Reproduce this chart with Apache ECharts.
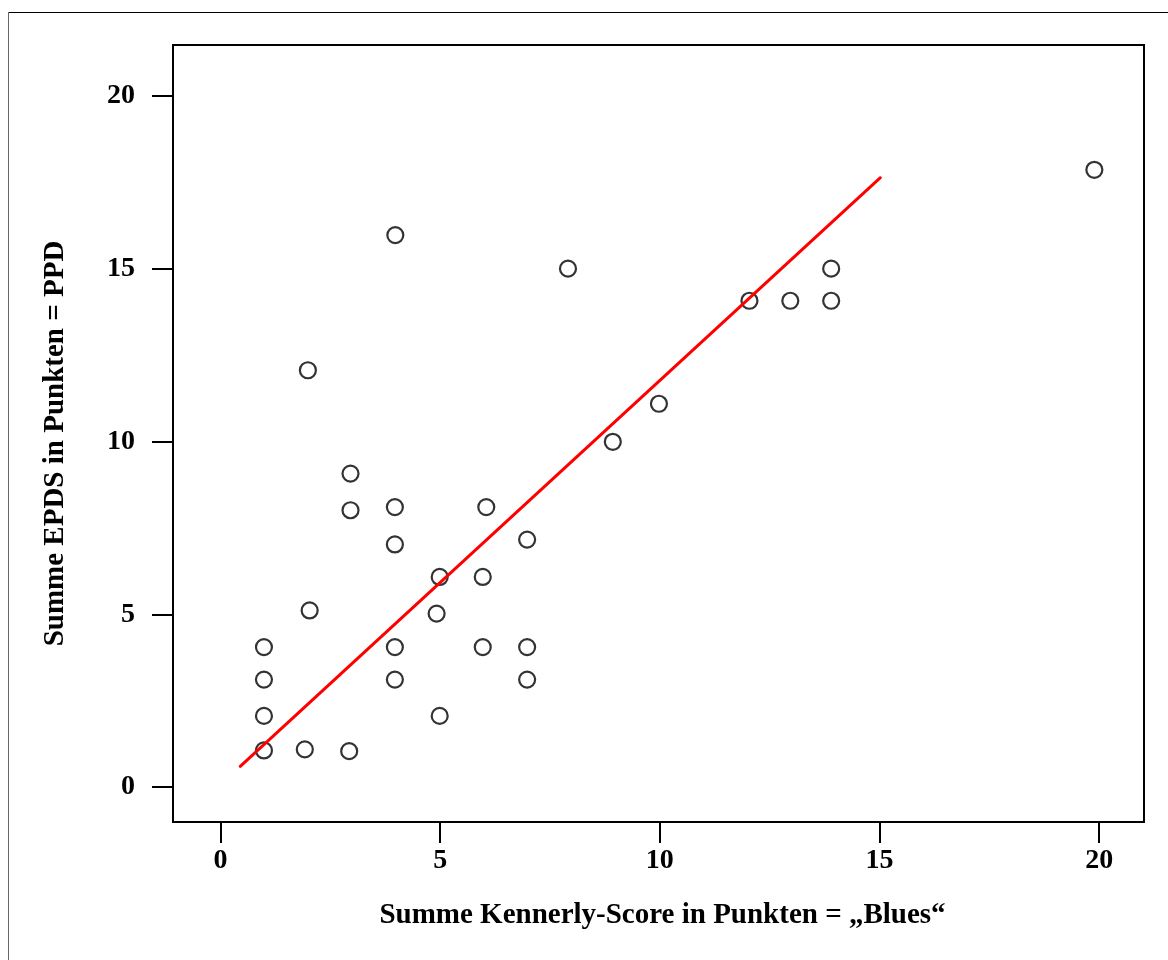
<!DOCTYPE html>
<html>
<head>
<meta charset="utf-8">
<script src="https://cdn.jsdelivr.net/npm/echarts@6.0.0/dist/echarts.min.js"></script>
<style>
  html, body { margin: 0; padding: 0; background: #fff; }
  #chart { width: 1168px; height: 960px; }
</style>
</head>
<body>
<div id="chart"></div>
<script>
// Kennerly-Score ("Blues") values
var kennerly = [0.99, 0.99, 0.99, 0.99, 1.92, 2.03, 1.99, 2.93, 2.96, 2.96,
                3.97, 3.97, 3.97, 3.97, 3.98, 4.99, 4.92, 4.99, 5.97, 5.97,
                6.05, 6.98, 6.98, 6.98, 7.91, 8.93, 9.98, 12.04, 12.97, 13.9,
                13.9, 19.89];
// EPDS values (PPD)
var epds = [1.06, 2.06, 3.11, 4.05, 1.09, 5.11, 12.06, 1.04, 8.01, 9.07,
            3.11, 4.05, 7.02, 8.10, 15.97, 2.06, 5.02, 6.08, 4.05, 6.08,
            8.10, 3.11, 4.05, 7.16, 15.0, 9.99, 11.09, 14.07, 14.07, 14.07,
            15.0, 17.86];
// Regression line end points
var lineX = [0.45, 15.02];
var lineY = [0.6, 17.63];
// Tick labels
var xTicks = [0, 5, 10, 15, 20];
var yTicks = [0, 5, 10, 15, 20];
var xTitle = 'Summe Kennerly-Score in Punkten = \u201EBlues\u201C';
var yTitle = 'Summe EPDS in Punkten = PPD';

var FONT = "'Liberation Serif', 'Times New Roman', serif";

var points = kennerly.map(function (x, i) { return [x, epds[i]]; });
var linePts = lineX.map(function (x, i) { return [x, lineY[i]]; });

var chart = echarts.init(document.getElementById('chart'), null, { renderer: 'canvas' });
chart.setOption({
  backgroundColor: '#fff',
  animation: false,
  graphic: [
    { type: 'line', shape: { x1: 8, y1: 12.5, x2: 1168, y2: 12.5 }, style: { stroke: '#000', lineWidth: 1 } },
    { type: 'line', shape: { x1: 8.5, y1: 12, x2: 8.5, y2: 960 }, style: { stroke: '#666', lineWidth: 1 } }
  ],
  grid: {
    left: 173, top: 45, width: 971, height: 777,
    show: true, borderColor: '#000', borderWidth: 2, backgroundColor: 'transparent'
  },
  xAxis: {
    type: 'value', min: -1.08, max: 21.02,
    name: xTitle, nameLocation: 'middle', nameGap: 79,
    nameTextStyle: { fontFamily: FONT, fontWeight: 'bold', fontSize: 29, color: '#000', padding: [0, 0, 0, 8] },
    axisLine: { show: false, onZero: false },
    axisTick: { show: true, customValues: xTicks, length: 21, lineStyle: { color: '#000', width: 2 } },
    axisLabel: { customValues: xTicks, margin: 25, fontFamily: FONT, fontWeight: 'bold', fontSize: 28, color: '#000' },
    splitLine: { show: false }
  },
  yAxis: {
    type: 'value', min: -1.01, max: 21.47,
    name: yTitle, nameLocation: 'middle', nameGap: 103, nameRotate: 90,
    nameTextStyle: { fontFamily: FONT, fontWeight: 'bold', fontSize: 29, color: '#000', padding: [0, 20, 0, 0] },
    axisLine: { show: false, onZero: false },
    axisTick: { show: true, customValues: yTicks, length: 21, lineStyle: { color: '#000', width: 2 } },
    axisLabel: { customValues: yTicks, margin: 38, fontFamily: FONT, fontWeight: 'bold', fontSize: 28, color: '#000' },
    splitLine: { show: false }
  },
  series: [
    {
      type: 'scatter',
      data: points,
      symbol: 'circle',
      symbolSize: 16,
      itemStyle: { color: 'rgba(0,0,0,0)', borderColor: '#000', borderWidth: 2.2 },
      emphasis: { disabled: true }
    },
    {
      type: 'line',
      data: linePts,
      symbol: 'none',
      lineStyle: { color: '#ff0000', width: 3, cap: 'round' },
      emphasis: { disabled: true }
    }
  ]
});
</script>
</body>
</html>
